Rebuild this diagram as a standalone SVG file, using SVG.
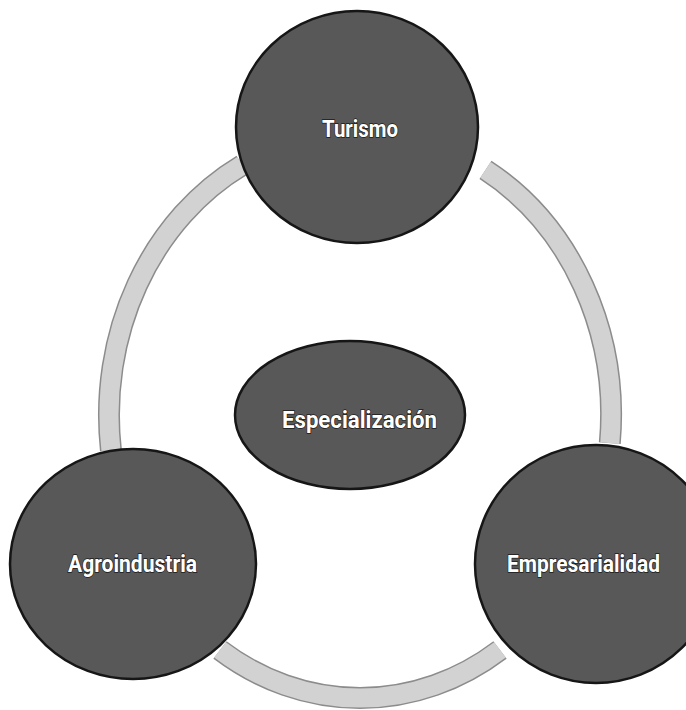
<svg xmlns="http://www.w3.org/2000/svg" width="686" height="710" viewBox="0 0 686 710">
<style>
.ring-edge{fill:none;stroke:#8c8c8c;stroke-width:22;stroke-linecap:butt}
.ring{fill:none;stroke:#d2d2d2;stroke-width:19;stroke-linecap:butt}
.node{fill:#585858;stroke:#161616;stroke-width:2.5}
.lbl{font-family:"Liberation Sans Narrow","Roboto","Liberation Sans",sans-serif;font-weight:bold;font-size:24px;fill:#ffffff;stroke:#1a1a1a;stroke-width:1.4;paint-order:stroke;text-anchor:middle}
</style>
<rect x="0" y="0" width="686" height="710" fill="#ffffff"/>
<g id="connectors">
<path class="ring-edge" d="M110.9,450 A251,283 0 0 1 242.2,165.1"/>
<path class="ring-edge" d="M485.5,169.9 A251,283 0 0 1 609.8,443.1"/>
<path class="ring-edge" d="M500,649.9 A251,283 0 0 1 220,649.9"/>
<path class="ring" d="M110.9,450 A251,283 0 0 1 242.2,165.1"/>
<path class="ring" d="M485.5,169.9 A251,283 0 0 1 609.8,443.1"/>
<path class="ring" d="M500,649.9 A251,283 0 0 1 220,649.9"/>
</g>
<g id="turismo">
<ellipse class="node" cx="357" cy="127" rx="121" ry="116"/>
<text class="lbl" x="360" y="137" textLength="76" lengthAdjust="spacingAndGlyphs">Turismo</text>
</g>
<g id="especializacion">
<ellipse class="node" cx="350" cy="415" rx="115" ry="74"/>
<text class="lbl" x="359.5" y="428" textLength="155" lengthAdjust="spacingAndGlyphs">Especialización</text>
</g>
<g id="agroindustria">
<ellipse class="node" cx="133" cy="564" rx="123" ry="115"/>
<text class="lbl" x="132.5" y="572" textLength="129" lengthAdjust="spacingAndGlyphs">Agroindustria</text>
</g>
<g id="empresarialidad">
<ellipse class="node" cx="596" cy="564" rx="121" ry="119"/>
<text class="lbl" x="583.5" y="572" textLength="153" lengthAdjust="spacingAndGlyphs">Empresarialidad</text>
</g>
</svg>
